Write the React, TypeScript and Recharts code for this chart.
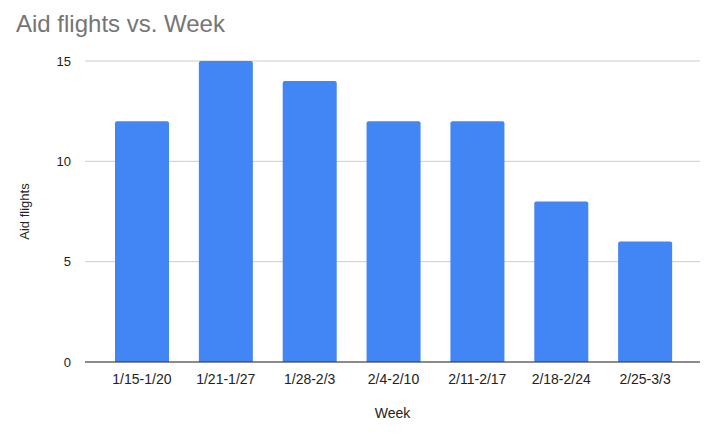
import React from "react";
import { BarChart, Bar, XAxis, YAxis, CartesianGrid } from "recharts";

const weeks = ["1/15-1/20", "1/21-1/27", "1/28-2/3", "2/4-2/10", "2/11-2/17", "2/18-2/24", "2/25-3/3"];
const aidFlights = [12, 15, 14, 12, 12, 8, 6];
const yTicks = [0, 5, 10, 15];

const data = weeks.map((w, i) => ({ week: w, flights: aidFlights[i] }));

const font = "Arial, 'Liberation Sans', sans-serif";

export default function App() {
  return (
    <div style={{ position: "absolute", left: 0, top: 0, width: 716, height: 436, background: "#fff", fontFamily: font }}>
      <div style={{ position: "absolute", left: 16, top: 9, fontSize: 24, color: "#757575", fontFamily: font, lineHeight: "30px" }}>
        Aid flights vs. Week
      </div>
      <BarChart width={716} height={436} data={data} margin={{ top: 61, right: 16, bottom: 0, left: 0 }}>
        <CartesianGrid vertical={false} stroke="#cccccc" />
        <XAxis
          dataKey="week"
          height={74}
          padding={{ left: 15, right: 13 }}
          tickLine={false}
          axisLine={{ stroke: "#333333" }}
          tick={{ fill: "#222222", fontSize: 14, fontFamily: font }}
          tickMargin={6}
          interval={0}
          label={{ value: "Week", position: "insideBottom", offset: 18, fill: "#222222", fontSize: 14, fontFamily: font }}
        />
        <YAxis
          width={85}
          domain={[0, 15]}
          ticks={yTicks}
          tickLine={false}
          axisLine={false}
          tick={{ fill: "#222222", fontSize: 13, fontFamily: font }}
          tickMargin={8}
          label={{ value: "Aid flights", angle: -90, position: "insideLeft", offset: 24, fill: "#222222", fontSize: 13, fontFamily: font, style: { textAnchor: "middle" } }}
        />
        <Bar dataKey="flights" fill="#4285f4" barSize={54} radius={[2, 2, 0, 0]} isAnimationActive={false} />
      </BarChart>
    </div>
  );
}
